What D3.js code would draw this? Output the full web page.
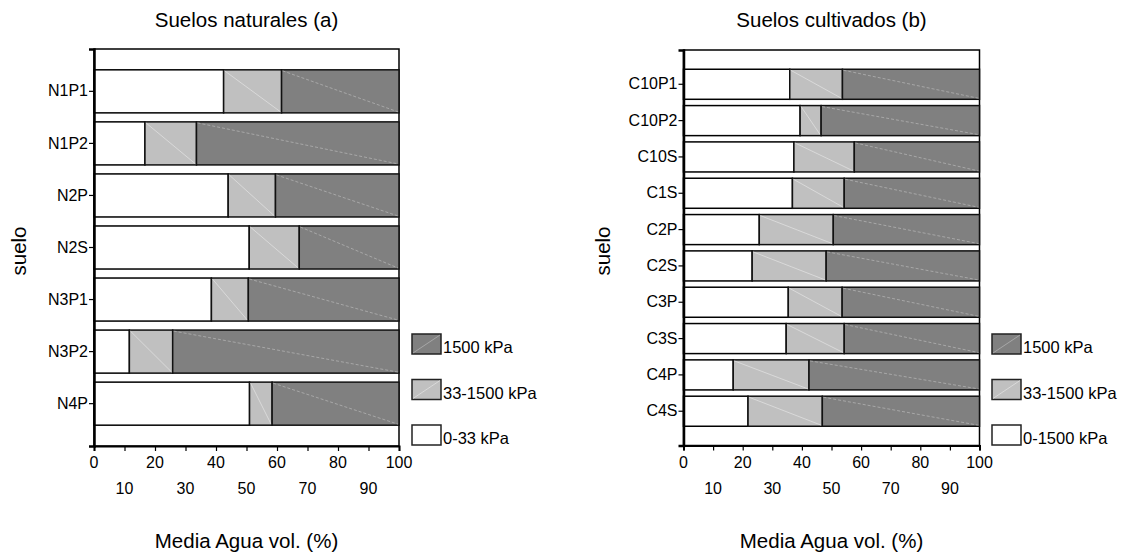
<!DOCTYPE html>
<html>
<head>
<meta charset="utf-8">
<script src="https://cdn.jsdelivr.net/npm/d3@7"></script>
<style>
  html, body { margin: 0; padding: 0; background: #fff; }
  svg { display: block; font-family: "Liberation Sans", Arial, sans-serif; }
</style>
</head>
<body>
<svg id="chart" width="1122" height="556"></svg>
<script>
// Natural soils (a): share of water held in each pressure range (%)
const naturalSoils = ["N1P1", "N1P2", "N2P", "N2S", "N3P1", "N3P2", "N4P"];
const natural_0_33 = [42.5, 16.7, 44.0, 50.9, 38.5, 11.6, 51.0];
const natural_33_1500 = [19.0, 16.9, 15.5, 16.4, 12.1, 14.2, 7.4];
const natural_1500 = [38.5, 66.4, 40.5, 32.7, 49.4, 74.2, 41.6];

// Cultivated soils (b)
const cultivatedSoils = ["C10P1", "C10P2", "C10S", "C1S", "C2P", "C2S", "C3P", "C3S", "C4P", "C4S"];
const cultivated_0_1500 = [35.9, 39.4, 37.3, 36.8, 25.6, 23.2, 35.4, 34.7, 16.8, 21.8];
const cultivated_33_1500 = [17.8, 7.1, 20.4, 17.5, 25.0, 25.0, 18.2, 19.6, 25.6, 25.1];
const cultivated_1500 = [46.3, 53.5, 42.3, 45.7, 49.4, 51.8, 46.4, 45.7, 57.6, 53.1];

const xTicks = [0, 10, 20, 30, 40, 50, 60, 70, 80, 90, 100];

const seriesKeys = ["low", "mid", "high"];
const fills = { low: "#ffffff", mid: "#c0c0c0", high: "#808080" };

const svg = d3.select("#chart");

function drawPanel(cfg) {
  const rows = cfg.categories.map((c, i) => ({
    name: c, low: cfg.low[i], mid: cfg.mid[i], high: cfg.high[i]
  }));
  const stacked = d3.stack().keys(seriesKeys)(rows);

  const x = d3.scaleLinear().domain([0, 100]).range([cfg.left, cfg.right]);
  const y = d3.scaleBand().domain(cfg.categories)
    .range([cfg.top, cfg.bottom])
    .paddingInner(cfg.padInner).paddingOuter(cfg.padOuter);

  const g = svg.append("g");

  // plot frame
  g.append("rect")
    .attr("x", cfg.left).attr("y", cfg.top)
    .attr("width", cfg.right - cfg.left).attr("height", cfg.bottom - cfg.top)
    .attr("fill", "#fff").attr("stroke", "#000").attr("stroke-width", 1.5);

  // stacked segments
  stacked.forEach(layer => {
    const lg = g.append("g");
    layer.forEach((d, i) => {
      const x0 = x(d[0]), x1 = x(d[1]);
      const y0 = y(cfg.categories[i]), h = y.bandwidth();
      lg.append("rect")
        .attr("x", x0).attr("y", y0)
        .attr("width", x1 - x0).attr("height", h)
        .attr("fill", fills[layer.key])
        .attr("stroke", layer.key === "low" ? "#000" : "#111")
        .attr("stroke-width", 1.5);
      if (layer.key !== "low") {
        lg.append("line")
          .attr("x1", x0 + 1).attr("y1", y0 + 1)
          .attr("x2", x1 - 1).attr("y2", y0 + h - 1)
          .attr("stroke", layer.key === "high" ? "#b8b8b8" : "#e4e4e4")
          .attr("stroke-width", 0.7)
          .attr("stroke-dasharray", layer.key === "high" ? "3,2" : null);
      }
    });
  });

  // x axis: even ticks labelled on the first row, odd ticks on the second
  const xAxis = g.append("g")
    .attr("transform", `translate(0,${cfg.bottom})`)
    .call(d3.axisBottom(x).tickValues(xTicks).tickSize(5).tickFormat(""));
  xAxis.select(".domain").attr("stroke-width", 2);
  xAxis.selectAll(".tick line").attr("stroke-width", 1.2);
  g.selectAll(".xlab").data(xTicks).enter().append("text")
    .attr("x", d => x(d))
    .attr("y", d => (d % 20 === 0) ? cfg.bottom + 22 : cfg.bottom + 48)
    .attr("text-anchor", "middle")
    .attr("font-size", 16)
    .attr("fill", "#000")
    .text(d => d);

  // y axis
  const yAxis = g.append("g")
    .attr("transform", `translate(${cfg.left},0)`)
    .call(d3.axisLeft(y).tickSize(5).tickPadding(1));
  yAxis.select(".domain").attr("stroke-width", 2.5);
  yAxis.selectAll(".tick line").attr("stroke-width", 1.2);
  yAxis.selectAll(".tick text")
    .attr("font-size", 16).attr("fill", "#000")
    .attr("font-family", "Liberation Sans, Arial, sans-serif");

  // titles
  g.append("text")
    .attr("x", (cfg.left + cfg.right) / 2).attr("y", 27)
    .attr("text-anchor", "middle").attr("font-size", 20.5)
    .text(cfg.title);
  g.append("text")
    .attr("x", (cfg.left + cfg.right) / 2).attr("y", 548)
    .attr("text-anchor", "middle").attr("font-size", 20.5)
    .text("Media Agua vol. (%)");
  g.append("text")
    .attr("transform", `translate(${cfg.yTitleX},251) rotate(-90)`)
    .attr("text-anchor", "middle").attr("font-size", 20.5)
    .text("suelo");

  // legend
  const legend = g.append("g").attr("transform", `translate(${cfg.legendX},0)`);
  cfg.legendItems.forEach((item, i) => {
    const ly = 334 + i * 45.5;
    legend.append("rect")
      .attr("x", 0).attr("y", ly).attr("width", 29).attr("height", 20)
      .attr("fill", fills[item.key]).attr("stroke", "#222").attr("stroke-width", 1.5);
    if (item.key !== "low") {
      legend.append("line")
        .attr("x1", 1).attr("y1", ly + 19).attr("x2", 28).attr("y2", ly + 1)
        .attr("stroke", item.key === "high" ? "#b8b8b8" : "#e4e4e4")
        .attr("stroke-width", 0.7);
    }
    legend.append("text")
      .attr("x", 31).attr("y", ly + 19)
      .attr("font-size", 16.5)
      .text(item.label);
  });
}

drawPanel({
  title: "Suelos naturales (a)",
  categories: naturalSoils,
  low: natural_0_33, mid: natural_33_1500, high: natural_1500,
  left: 94, right: 399, top: 49, bottom: 446,
  padInner: 0.173, padOuter: 0.40,
  yTitleX: 26,
  legendX: 412,
  legendItems: [
    { key: "high", label: "1500 kPa" },
    { key: "mid", label: "33-1500 kPa" },
    { key: "low", label: "0-33 kPa" }
  ]
});

drawPanel({
  title: "Suelos cultivados (b)",
  categories: cultivatedSoils,
  low: cultivated_0_1500, mid: cultivated_33_1500, high: cultivated_1500,
  left: 683.5, right: 979.5, top: 50, bottom: 445.5,
  padInner: 0.173, padOuter: 0.53,
  yTitleX: 610,
  legendX: 992,
  legendItems: [
    { key: "high", label: "1500 kPa" },
    { key: "mid", label: "33-1500 kPa" },
    { key: "low", label: "0-1500 kPa" }
  ]
});
</script>
</body>
</html>
